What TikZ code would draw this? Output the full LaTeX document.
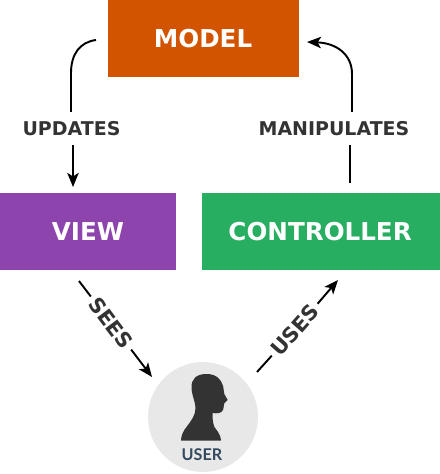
\documentclass[tikz,border=0pt]{standalone}
\usepackage{fontspec}
\setmainfont{DejaVu Sans}
\newfontfamily\userfont{Lato}
\usetikzlibrary{arrows.meta, shapes.geometric}
\definecolor{modelcol}{HTML}{D35400}
\definecolor{viewcol}{HTML}{8E44AD}
\definecolor{controlcol}{HTML}{27AE60}
\definecolor{usercol}{HTML}{E8E8E8}
\definecolor{labelcol}{HTML}{333333}
\definecolor{usertext}{HTML}{34495E}

\begin{document}
\begin{tikzpicture}[x=0.02cm, y=-0.02cm,
    box/.style={rectangle, inner sep=0pt, outer sep=0pt, minimum height=1.54cm,
                text=white, font=\fontsize{14}{16}\selectfont\bfseries},
    linklabel/.style={inner xsep=2.8pt, inner ysep=5.2pt, text=labelcol,
                font=\fontsize{10.8}{12}\selectfont\bfseries},
    slantlabel/.style={inner xsep=2.2pt, inner ysep=3pt, text=labelcol,
                font=\fontsize{11.8}{14}\selectfont\bfseries},
    link/.style={-{Stealth[length=8pt, width=6.5pt, inset=2pt]}, line width=1.1pt, black},
    plainlink/.style={line width=1.1pt, black}]
    \useasboundingbox (0,0) rectangle (440,474);

    % Boxes
    \node[box, fill=modelcol, minimum width=3.82cm] (model) at (203.5,38.5) {\hspace*{-0.5pt}MODEL};
    \node[box, fill=viewcol, minimum width=3.52cm] (view) at (88,231.5) {VIEW};
    \node[box, fill=controlcol, minimum width=4.76cm] (controller) at (321,231.5) {\hspace*{-1pt}CONTROLLER};

    % User
    \node[circle, fill=usercol, inner sep=0pt, minimum size=2.2cm] (user) at (203,417) {};
    \fill[labelcol] (181,440.7) -- (221,440.7) .. controls (220.5,433) and (216,430) .. (214.3,426.7)
        .. controls (212.5,422) and (212.5,417) .. (212.7,413) .. controls (216,413.5) and (222,414) .. (223.3,409.3)
        .. controls (224.3,406) and (223.5,404.5) .. (224.3,403.3) -- (227.7,400) -- (224.3,394)
        .. controls (223.5,390) and (223.5,386) .. (222.7,385) .. controls (221,380) and (217,374) .. (206.7,374)
        .. controls (196,374) and (191.5,379) .. (191.5,387) .. controls (191.5,395) and (195,400) .. (195.5,408)
        .. controls (195.7,415) and (191,421) .. (186.7,426.7) .. controls (183,431) and (181,436) .. (181,440.7) -- cycle;
    \node[inner sep=0pt, text=usertext, font=\fontsize{9.2}{10}\userfont\bfseries] (usertxt) at (202,454.5) {USER};

    % Labels
    \node[linklabel] (updates) at (71.5,128.5) {UPDATES};
    \node[linklabel] (manipulates) at (334,128.5) {MANIPULATES};
    \node[slantlabel, rotate=-53] (sees) at (111,323) {SEES};
    \node[slantlabel, rotate=48.5] (uses) at (295,330) {USES};

    % Free ends
    \coordinate (updatesfrom) at (96,40);
    \coordinate (updatesbend) at (71,73);
    \coordinate (updatestip) at (73,187);
    \coordinate (manipfrom) at (350,183);
    \coordinate (manipbend) at (352,74);
    \coordinate (maniptip) at (307,42);
    \coordinate (seesfrom) at (79,281);
    \coordinate (seestip) at (152,377);
    \coordinate (usesfrom) at (257,372);
    \coordinate (usestip) at (338,280);

    % Arrows
    \draw[plainlink] (updatesfrom) .. controls (80,42) and (71,54) .. (updatesbend) -- (updates.north -| updatesbend);
    \draw[link] (updates.south -| updatestip) -- (updatestip);
    \draw[plainlink] (manipfrom) -- (manipulates.south -| manipfrom);
    \draw[link] (manipulates.north -| manipbend) -- (manipbend) .. controls (352,54) and (336,43) .. (maniptip);
    \draw[plainlink] (seesfrom) -- (sees);
    \draw[link] (sees) -- (seestip);
    \draw[plainlink] (usesfrom) -- (uses);
    \draw[link] (uses) -- (usestip);
\end{tikzpicture}
\end{document}
